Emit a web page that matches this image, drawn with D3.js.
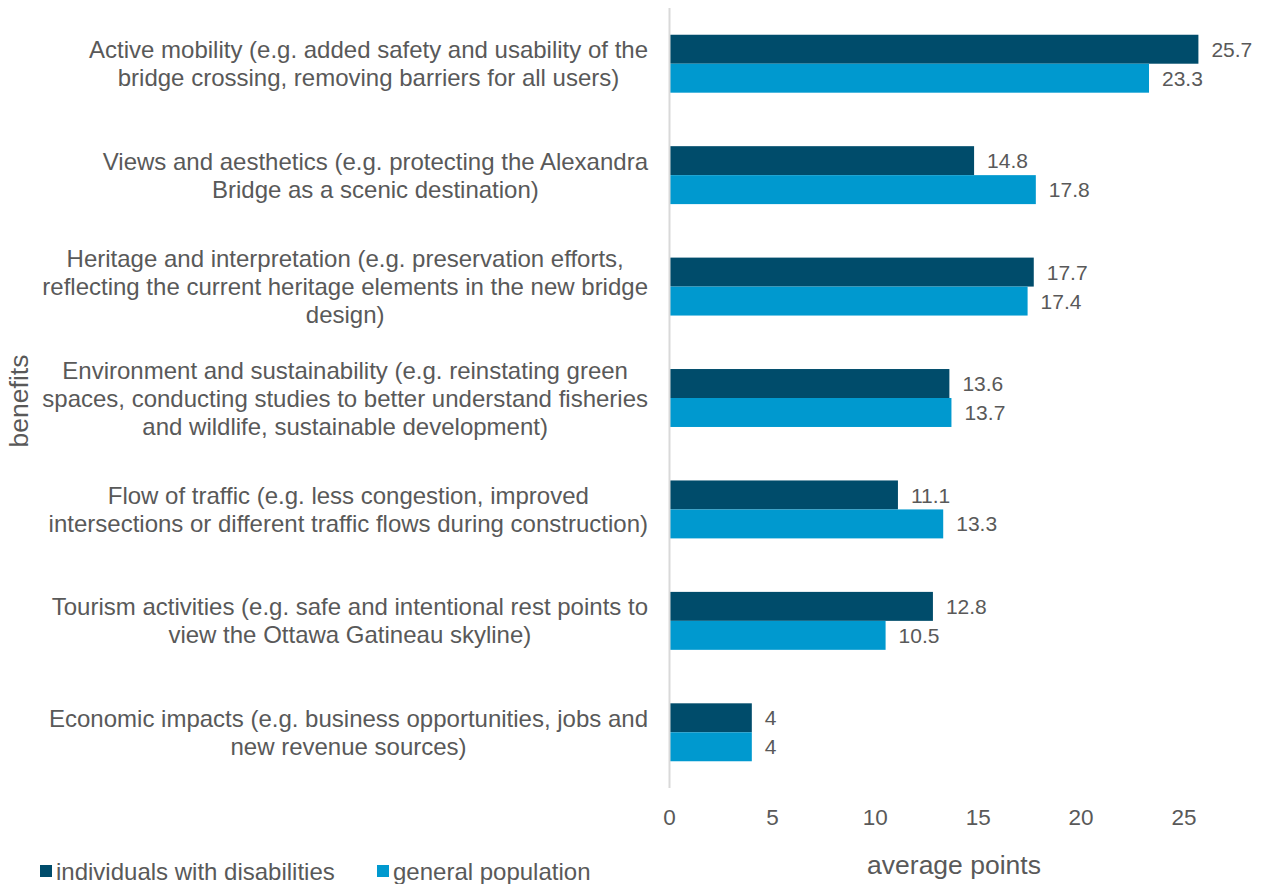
<!DOCTYPE html>
<html>
<head>
<meta charset="utf-8">
<script src="https://cdn.jsdelivr.net/npm/d3@7"></script>
<style>
  body { margin: 0; background: #fff; }
  svg text { font-family: "Liberation Sans", Arial, sans-serif; fill: #595959; }
</style>
</head>
<body>
<svg id="chart" width="1267" height="884"></svg>
<script>
// Benefit categories, each label split into its display lines
const categories = [
  ["Active mobility (e.g. added safety and usability of the", "bridge crossing, removing barriers for all users)"],
  ["Views and aesthetics (e.g. protecting the Alexandra", "Bridge as a scenic destination)"],
  ["Heritage and interpretation (e.g. preservation efforts,", "reflecting the current heritage elements in the new bridge", "design)"],
  ["Environment and sustainability (e.g. reinstating green", "spaces, conducting studies to better understand fisheries", "and wildlife, sustainable development)"],
  ["Flow of traffic (e.g. less congestion, improved", "intersections or different traffic flows during construction)"],
  ["Tourism activities (e.g. safe and intentional rest points to", "view the Ottawa Gatineau skyline)"],
  ["Economic impacts (e.g. business opportunities, jobs and", "new revenue sources)"]
];
const seriesNames = ["individuals with disabilities", "general population"];
const disabilities = [25.7, 14.8, 17.7, 13.6, 11.1, 12.8, 4];
const generalPop = [23.3, 17.8, 17.4, 13.7, 13.3, 10.5, 4];
const xTicks = [0, 5, 10, 15, 20, 25];
const colors = ["#004c6b", "#0099cf"];

const svg = d3.select("#chart");
const x0 = 669.5;

const x = d3.scaleLinear().domain([0, 25]).range([x0, 1184]);
const y = d3.scaleBand().domain(d3.range(categories.length)).range([8, 788])
  .paddingInner(0.48).paddingOuter(0.24);
const ySub = d3.scaleBand().domain([0, 1]).range([0, y.bandwidth()]);

const series = [disabilities, generalPop];

// bars
series.forEach((vals, s) => {
  svg.append("g").selectAll("rect").data(vals).join("rect")
    .attr("x", x(0))
    .attr("y", (d, i) => y(i) + ySub(s))
    .attr("width", d => x(d) - x(0))
    .attr("height", ySub.bandwidth())
    .attr("fill", colors[s]);
  // value labels
  svg.append("g").selectAll("text").data(vals).join("text")
    .attr("x", d => x(d) + 13)
    .attr("y", (d, i) => y(i) + ySub(s) + ySub.bandwidth() / 2)
    .attr("dy", "0.36em")
    .style("font-size", "21px")
    .text(d => d);
});

// vertical category axis line
svg.append("line")
  .attr("x1", x0).attr("x2", x0).attr("y1", 8).attr("y2", 788)
  .attr("stroke", "#d9d9d9").attr("stroke-width", 2);

// category labels: each block is right-aligned to the axis,
// its lines centered within the block's own width
const lineH = 28;
const labelRight = 648;
categories.forEach((lines, i) => {
  const cy = y(i) + y.bandwidth() / 2;
  const t = svg.append("text")
    .attr("text-anchor", "middle")
    .style("font-size", "24px");
  const spans = lines.map((ln, k) => t.append("tspan")
      .attr("y", cy + (k - (lines.length - 1) / 2) * lineH)
      .attr("dy", "0.36em")
      .text(ln));
  const maxW = d3.max(spans, sp => sp.node().getComputedTextLength());
  spans.forEach(sp => sp.attr("x", labelRight - maxW / 2));
});

// x tick labels
svg.append("g").selectAll("text").data(xTicks).join("text")
  .attr("x", d => x(d))
  .attr("y", 817)
  .attr("dy", "0.36em")
  .attr("text-anchor", "middle")
  .style("font-size", "22.5px")
  .text(d => d);

// axis titles
svg.append("text")
  .attr("x", 954).attr("y", 864).attr("dy", "0.36em")
  .attr("text-anchor", "middle")
  .style("font-size", "26.5px")
  .text("average points");

svg.append("text")
  .attr("transform", "translate(18,401) rotate(-90)")
  .attr("dy", "0.36em")
  .attr("text-anchor", "middle")
  .style("font-size", "26.5px")
  .text("benefits");

// legend
const legendX = [40, 377];
seriesNames.forEach((name, s) => {
  svg.append("rect")
    .attr("x", legendX[s]).attr("y", 865)
    .attr("width", 12).attr("height", 12)
    .attr("fill", colors[s]);
  svg.append("text")
    .attr("x", legendX[s] + 16).attr("y", 871).attr("dy", "0.36em")
    .style("font-size", "24px")
    .text(name);
});
</script>
</body>
</html>
